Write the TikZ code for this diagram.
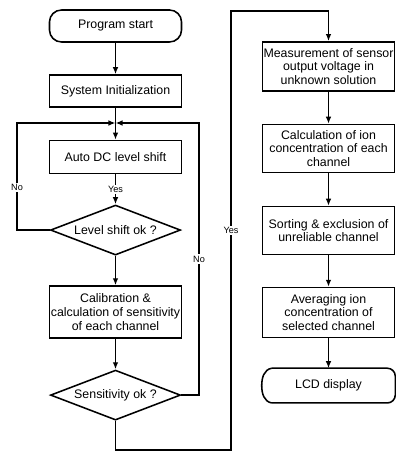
\documentclass[tikz,border=0pt]{standalone}
\usepackage{fontspec}
\setmainfont{Liberation Sans}
\usetikzlibrary{shapes.geometric,arrows.meta}

\begin{document}
\begin{tikzpicture}[x=0.025cm, y=-0.025cm, node distance=2.05cm, line width=1.1pt,
  >={Latex[length=5pt,width=4pt]},
  every node/.style={align=center,font=\fontsize{8.8}{9.8}\selectfont},
  procbox/.style={draw,minimum width=3.3cm,inner xsep=0.5pt},
  decision/.style={draw,diamond,aspect=2.6,minimum width=3.25cm,minimum height=1.25cm,inner sep=0pt},
  termbox/.style={draw,rounded corners=0.3cm,minimum width=3.3cm,minimum height=0.8cm},
  branch/.style={fill=white,inner sep=1pt,font=\fontsize{6.5}{7}\selectfont}]
  \useasboundingbox (0,0) rectangle (395,452);
  % left column
  \node[termbox] (start) at (115.5,26) {Program start};
  \node[procbox, minimum height=0.8cm] (sys) [below of=start, yshift=0.425cm] {System Initialization};
  \node[procbox, minimum height=0.83cm] (auto) [below of=sys, yshift=0.4cm] {Auto DC level shift};
  \node[decision] (lvl) [below of=auto, yshift=0.225cm] {Level shift ok ?};
  \node[procbox, minimum height=1.3cm] (calib) [below of=lvl] {Calibration \&\\calculation of sensitivity\\of each channel};
  \node[decision] (sens) [below of=calib, yshift=-0.025cm] {Sensitivity ok ?};
  % right column
  \node[procbox, minimum height=1.23cm] (meas) at (328.5,66.5) {Measurement of sensor\\output voltage in\\unknown solution};
  \node[procbox, minimum height=1.2cm] (calc) [below of=meas] {Calculation of ion\\concentration of each\\channel};
  \node[procbox, minimum height=1.2cm] (sort) [below of=calc] {Sorting \& exclusion of\\unreliable channel};
  \node[procbox, minimum height=1.25cm] (avg) [below of=sort] {Averaging ion\\concentration of\\selected channel};
  \node[minimum width=3.3cm, minimum height=0.83cm] (lcd) [below of=avg, yshift=0.225cm] {LCD display};
  \draw ([xshift=0.25cm]lcd.south west) to[out=170,in=-90] (lcd.west) to[out=90,in=-170] ([xshift=0.25cm]lcd.north west);
  \draw[rounded corners=0.2cm] ([xshift=0.25cm]lcd.north west) -- (lcd.north east) -- (lcd.south east) -- ([xshift=0.25cm]lcd.south west);

  \coordinate (merge) at (115.5,123);
  \coordinate (noleft) at (17,123);
  \coordinate (noright) at (199,123);
  \coordinate (yesbot) at (231,450);
  \coordinate (yestop) at (231,11);

  \draw[->] (start) -- (sys);
  \draw[->] (sys) -- (auto);
  \draw[->] (auto) -- node[branch] {Yes} (lvl);
  \draw[->] (lvl) -- (calib);
  \draw[->] (calib) -- (sens);
  \draw[->] (lvl.west) -| node[branch, pos=0.7] {No} (noleft) -- (merge);
  \draw[->] (sens.east) -| node[branch, pos=0.75] {No} (noright) -- (merge);
  \draw[->] (sens) |- (yesbot) -- node[branch] {Yes} (yestop) -| (meas);
  \draw[->] (meas) -- (calc);
  \draw[->] (calc) -- (sort);
  \draw[->] (sort) -- (avg);
  \draw[->] (avg) -- (lcd);
\end{tikzpicture}
\end{document}
